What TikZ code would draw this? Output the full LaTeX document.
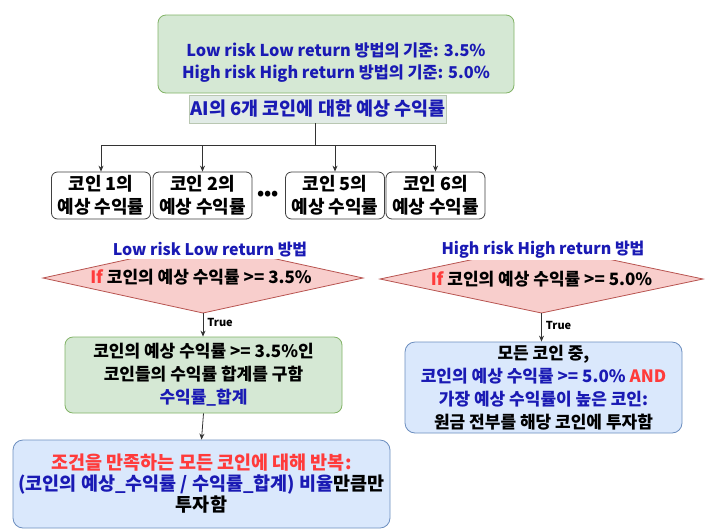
\documentclass[tikz,border=0pt]{standalone}
\usepackage{fontspec}
\setmainfont{Noto Sans CJK KR}
\usetikzlibrary{arrows.meta}
\definecolor{gfill}{HTML}{D5E8D4}
\definecolor{gline}{HTML}{82B366}
\definecolor{bfill}{HTML}{DAE8FC}
\definecolor{bline}{HTML}{6C8EBF}
\definecolor{pfill}{HTML}{F8CECC}
\definecolor{pline}{HTML}{B85450}
\definecolor{tblue}{HTML}{1A1AB4}
\definecolor{tred}{HTML}{FF3B3B}
\definecolor{lfill}{HTML}{E1EBE6}
\definecolor{lline}{HTML}{B9C7B2}
\begin{document}
\begin{tikzpicture}[x=1pt,y=-1pt,
  every node/.style={font=\fontsize{17}{23}\selectfont\bfseries, align=center, inner sep=0pt},
  greenbox/.style={draw=gline, fill=gfill, rounded corners=8pt, line width=0.8pt},
  bluebox/.style={draw=bline, fill=bfill, rounded corners=10pt, line width=0.8pt},
  coinbox/.style={draw=black!75, fill=white, rounded corners=6pt, line width=0.8pt, minimum width=99pt, minimum height=47pt, font=\fontsize{18}{23}\selectfont\bfseries},
  conn/.style={draw=black!80, line width=0.8pt},
  arr/.style={conn, -{Stealth[length=6pt,width=5pt]}},
  titlelab/.style={fill=white, text=tblue, inner sep=1pt, font=\fontsize{16}{20}\selectfont\bfseries},
  truelab/.style={font=\fontsize{11}{13}\selectfont\bfseries, anchor=west}
]
\useasboundingbox (0,0) rectangle (712,531);
\fill[white] (0,0) rectangle (712,531);

% top box and label
\node[greenbox, minimum width=356pt, minimum height=78pt, text=tblue, font=\fontsize{16.3}{22}\selectfont\bfseries] (top) at (336,54)
  {\rule{0pt}{30pt}Low risk Low return 방법의 기준: 3.5\%\\High risk High return 방법의 기준: 5.0\%};
\node[draw=lline, fill=lfill, minimum width=257pt, minimum height=28pt, text=tblue, font=\fontsize{18.5}{22}\selectfont\bfseries] (ai) at (318,109)
  {AI의 6개 코인에 대한 예상 수익률};

% coin boxes
\node[coinbox] (c1) at (101,195.5) {코인 1의\\예상 수익률};
\node[coinbox] (c2) at (202.5,195.5) {코인 2의\\예상 수익률};
\node[font=\fontsize{18}{20}\selectfont\bfseries] (dots) at (268,195) {•••};
\node[coinbox] (c5) at (335,195.5) {코인 5의\\예상 수익률};
\node[coinbox] (c6) at (435.5,195.5) {코인 6의\\예상 수익률};

\coordinate (bus) at (315,145);
\draw[conn] (ai.south -| bus) -- (bus);
\draw[conn] (bus -| c1) -- (bus -| c6);
\foreach \c in {c1,c2,c5,c6} \draw[arr] (bus -| \c) -- (\c.north);

% left diamond
\coordinate (dLt) at (203,243);
\coordinate (dLl) at (43,278);
\coordinate (dLb) at (203,313);
\coordinate (dLr) at (363,278);
\filldraw[fill=pfill, draw=pline, line width=0.8pt] (dLt) -- (dLr) -- (dLb) -- (dLl) -- cycle;
\node (dLtext) at (201,277) {{\color{tred}If} 코인의 예상 수익률 >= 3.5\%};
\node[titlelab] (labL) at (210,250) {Low risk Low return 방법};

% right diamond
\coordinate (dRt) at (541.5,245);
\coordinate (dRl) at (380,279);
\coordinate (dRb) at (541.5,313);
\coordinate (dRr) at (703,279);
\filldraw[fill=pfill, draw=pline, line width=0.8pt] (dRt) -- (dRr) -- (dRb) -- (dRl) -- cycle;
\node (dRtext) at (541.5,279) {{\color{tred}If} 코인의 예상 수익률 >= 5.0\%};
\node[titlelab] (labH) at (543,250) {High risk High return 방법};

% left green box
\node[greenbox, minimum width=277pt, minimum height=76pt] (g2) at (203.5,375)
  {코인의 예상 수익률 >= 3.5\%인\\코인들의 수익률 합계를 구함\\{\color{tblue}수익률\_합계}};
\draw[arr] (dLb) -- (dLb |- g2.north) node[truelab, pos=0.4, xshift=4pt] (tL) {True};

% bottom blue box
\node[bluebox, minimum width=377pt, minimum height=88pt, font=\fontsize{18.5}{21}\selectfont\bfseries] (bb) at (201.5,484)
  {{\color{tred}조건을 만족하는 모든 코인에 대해 반복:}\\{\color{tblue}(코인의 예상\_수익률 / 수익률\_합계) 비율}만큼만\\투자함};
\draw[arr] (g2.south) -- (bb.north);

% right blue box
\node[bluebox, minimum width=277pt, minimum height=91pt] (rb) at (543.5,387.5)
  {모든 코인 중,\\{\color{tblue}코인의 예상 수익률 >= 5.0\%} {\color{tred}AND}\\{\color{tblue}가장 예상 수익률이 높은 코인:}\\원금 전부를 해당 코인에 투자함};
\draw[arr] (dRb) -- (dRb |- rb.north) node[truelab, pos=0.45, xshift=4pt] (tR) {True};
\end{tikzpicture}
\end{document}
